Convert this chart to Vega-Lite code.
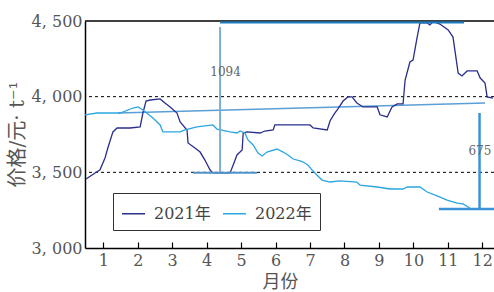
{
  "$schema": "https://vega.github.io/schema/vega-lite/v6.json",
  "width": 409,
  "height": 227,
  "autosize": "none",
  "padding": {"left": 85, "top": 21, "right": 0, "bottom": 44},
  "config": {"view": {"stroke": null}, "background": "white"},
  "datasets": {
    "prices": [
      {"year": "2021年", "m": 0.50, "p": 3456}, {"year": "2021年", "m": 0.76, "p": 3496}, {"year": "2021年", "m": 0.90, "p": 3515},
      {"year": "2021年", "m": 1.05, "p": 3595}, {"year": "2021年", "m": 1.14, "p": 3667}, {"year": "2021年", "m": 1.28, "p": 3767},
      {"year": "2021年", "m": 1.40, "p": 3793}, {"year": "2021年", "m": 1.78, "p": 3793}, {"year": "2021年", "m": 2.07, "p": 3800},
      {"year": "2021年", "m": 2.15, "p": 3892}, {"year": "2021年", "m": 2.24, "p": 3971}, {"year": "2021年", "m": 2.36, "p": 3978},
      {"year": "2021年", "m": 2.65, "p": 3985}, {"year": "2021年", "m": 2.79, "p": 3958}, {"year": "2021年", "m": 2.94, "p": 3932},
      {"year": "2021年", "m": 3.14, "p": 3892}, {"year": "2021年", "m": 3.23, "p": 3833}, {"year": "2021年", "m": 3.43, "p": 3780},
      {"year": "2021年", "m": 3.46, "p": 3694}, {"year": "2021年", "m": 3.66, "p": 3661}, {"year": "2021年", "m": 3.81, "p": 3634},
      {"year": "2021年", "m": 3.95, "p": 3581}, {"year": "2021年", "m": 4.10, "p": 3515}, {"year": "2021年", "m": 4.18, "p": 3496},
      {"year": "2021年", "m": 4.68, "p": 3496}, {"year": "2021年", "m": 4.77, "p": 3548}, {"year": "2021年", "m": 4.88, "p": 3615},
      {"year": "2021年", "m": 5.03, "p": 3648}, {"year": "2021年", "m": 5.06, "p": 3760}, {"year": "2021年", "m": 5.17, "p": 3767},
      {"year": "2021年", "m": 5.55, "p": 3760}, {"year": "2021年", "m": 5.69, "p": 3773}, {"year": "2021年", "m": 5.93, "p": 3780},
      {"year": "2021年", "m": 5.98, "p": 3813}, {"year": "2021年", "m": 7.00, "p": 3813}, {"year": "2021年", "m": 7.09, "p": 3793},
      {"year": "2021年", "m": 7.50, "p": 3780}, {"year": "2021年", "m": 7.58, "p": 3839}, {"year": "2021年", "m": 7.70, "p": 3885},
      {"year": "2021年", "m": 7.81, "p": 3919}, {"year": "2021年", "m": 7.96, "p": 3971}, {"year": "2021年", "m": 8.10, "p": 3998},
      {"year": "2021年", "m": 8.22, "p": 3998}, {"year": "2021年", "m": 8.36, "p": 3958}, {"year": "2021年", "m": 8.54, "p": 3932},
      {"year": "2021年", "m": 8.95, "p": 3932}, {"year": "2021年", "m": 9.03, "p": 3880}, {"year": "2021年", "m": 9.24, "p": 3866},
      {"year": "2021年", "m": 9.38, "p": 3932}, {"year": "2021年", "m": 9.53, "p": 3952}, {"year": "2021年", "m": 9.70, "p": 3952},
      {"year": "2021年", "m": 9.76, "p": 4110}, {"year": "2021年", "m": 9.90, "p": 4229}, {"year": "2021年", "m": 9.99, "p": 4242},
      {"year": "2021年", "m": 10.11, "p": 4394}, {"year": "2021年", "m": 10.19, "p": 4487}, {"year": "2021年", "m": 10.40, "p": 4487},
      {"year": "2021年", "m": 10.48, "p": 4474}, {"year": "2021年", "m": 10.57, "p": 4497}, {"year": "2021年", "m": 10.77, "p": 4480},
      {"year": "2021年", "m": 11.01, "p": 4441}, {"year": "2021年", "m": 11.15, "p": 4394}, {"year": "2021年", "m": 11.30, "p": 4156},
      {"year": "2021年", "m": 11.41, "p": 4137}, {"year": "2021年", "m": 11.56, "p": 4170}, {"year": "2021年", "m": 11.85, "p": 4170},
      {"year": "2021年", "m": 11.94, "p": 4123}, {"year": "2021年", "m": 12.08, "p": 4090}, {"year": "2021年", "m": 12.14, "p": 3998},
      {"year": "2021年", "m": 12.31, "p": 3991},
      {"year": "2022年", "m": 0.47, "p": 3879}, {"year": "2022年", "m": 0.82, "p": 3892}, {"year": "2022年", "m": 1.49, "p": 3892},
      {"year": "2022年", "m": 1.86, "p": 3925}, {"year": "2022年", "m": 2.01, "p": 3932}, {"year": "2022年", "m": 2.15, "p": 3912},
      {"year": "2022年", "m": 2.44, "p": 3859}, {"year": "2022年", "m": 2.65, "p": 3813}, {"year": "2022年", "m": 2.73, "p": 3767},
      {"year": "2022年", "m": 3.23, "p": 3767}, {"year": "2022年", "m": 3.37, "p": 3780}, {"year": "2022年", "m": 3.72, "p": 3800},
      {"year": "2022年", "m": 4.18, "p": 3813}, {"year": "2022年", "m": 4.30, "p": 3786}, {"year": "2022年", "m": 4.68, "p": 3767},
      {"year": "2022年", "m": 4.88, "p": 3760}, {"year": "2022年", "m": 4.97, "p": 3773}, {"year": "2022年", "m": 5.11, "p": 3760},
      {"year": "2022年", "m": 5.20, "p": 3714}, {"year": "2022年", "m": 5.35, "p": 3681}, {"year": "2022年", "m": 5.49, "p": 3628},
      {"year": "2022年", "m": 5.61, "p": 3608}, {"year": "2022年", "m": 5.75, "p": 3634}, {"year": "2022年", "m": 6.04, "p": 3654},
      {"year": "2022年", "m": 6.22, "p": 3634}, {"year": "2022年", "m": 6.36, "p": 3615}, {"year": "2022年", "m": 6.51, "p": 3588},
      {"year": "2022年", "m": 6.71, "p": 3575}, {"year": "2022年", "m": 6.80, "p": 3568}, {"year": "2022年", "m": 6.94, "p": 3548},
      {"year": "2022年", "m": 7.06, "p": 3515}, {"year": "2022年", "m": 7.20, "p": 3482}, {"year": "2022年", "m": 7.35, "p": 3449},
      {"year": "2022年", "m": 7.58, "p": 3436}, {"year": "2022年", "m": 7.87, "p": 3443}, {"year": "2022年", "m": 8.36, "p": 3436},
      {"year": "2022年", "m": 8.45, "p": 3416}, {"year": "2022年", "m": 8.95, "p": 3403}, {"year": "2022年", "m": 9.32, "p": 3390},
      {"year": "2022年", "m": 9.70, "p": 3390}, {"year": "2022年", "m": 9.82, "p": 3403}, {"year": "2022年", "m": 10.19, "p": 3403},
      {"year": "2022年", "m": 10.40, "p": 3370}, {"year": "2022年", "m": 10.69, "p": 3344}, {"year": "2022年", "m": 10.98, "p": 3317},
      {"year": "2022年", "m": 11.27, "p": 3297}, {"year": "2022年", "m": 11.44, "p": 3291}, {"year": "2022年", "m": 11.64, "p": 3264}
    ],
    "trend": [{"m": 1.43, "p": 3892}, {"m": 12.08, "p": 3958}]
  },
  "encoding": {
    "x": {
      "type": "quantitative",
      "scale": {"domain": [0.469, 12.34], "nice": false, "zero": false},
      "axis": {
        "values": [1, 2, 3, 4, 5, 6, 7, 8, 9, 10, 11, 12],
        "title": "月份",
        "grid": false,
        "domainColor": "#000000",
        "domainWidth": 1.5,
        "tickColor": "#000000",
        "tickWidth": 1.2,
        "tickSize": -6,
        "labelPadding": 10,
        "labelFont": "DejaVu Serif",
        "labelFontSize": 16,
        "labelColor": "#555555",
        "labelFlush": false,
        "titleFont": "DejaVu Serif, Noto Sans CJK SC",
        "titleFontSize": 18,
        "titleFontWeight": "normal",
        "titleColor": "#555555",
        "titleX": 195,
        "titleY": 34,
        "titleBaseline": "middle"
      }
    },
    "y": {
      "type": "quantitative",
      "scale": {"domain": [3000, 4500], "nice": false, "zero": false},
      "axis": {
        "values": [3000, 3500, 4000, 4500],
        "labelExpr": "replace(format(datum.value, ','), ',', ', ')",
        "title": "价格/元· t⁻¹",
        "grid": false,
        "ticks": false,
        "domainColor": "#000000",
        "domainWidth": 1.5,
        "labelPadding": 3,
        "labelFont": "DejaVu Serif",
        "labelFontSize": 16,
        "labelColor": "#555555",
        "labelFlush": false,
        "titleFont": "DejaVu Serif, Noto Sans CJK SC",
        "titleFontSize": 20,
        "titleFontWeight": "normal",
        "titleColor": "#555555",
        "titleX": -68,
        "titleY": 113,
        "titleBaseline": "middle"
      }
    }
  },
  "layer": [
    {
      "data": {"values": [{"p": 4000}, {"p": 3500}]},
      "mark": {"type": "rule", "color": "#000000", "strokeWidth": 1, "strokeDash": [3, 3]},
      "encoding": {"y": {"field": "p", "type": "quantitative"}}
    },
    {
      "data": {"values": [{"p": 4500}]},
      "mark": {"type": "rule", "color": "#000000", "strokeWidth": 1.5},
      "encoding": {"y": {"field": "p", "type": "quantitative"}}
    },
    {
      "data": {"name": "trend"},
      "mark": {"type": "line", "color": "#5a9fd6", "strokeWidth": 1.5},
      "encoding": {
        "x": {"field": "m", "type": "quantitative"},
        "y": {"field": "p", "type": "quantitative"}
      }
    },
    {
      "data": {"name": "prices"},
      "mark": {"type": "line", "strokeWidth": 1.3},
      "encoding": {
        "x": {"field": "m", "type": "quantitative"},
        "y": {"field": "p", "type": "quantitative"},
        "color": {
          "field": "year",
          "type": "nominal",
          "scale": {"domain": ["2021年", "2022年"], "range": ["#2b2e8c", "#2aa6e0"]},
          "legend": {
            "title": null,
            "orient": "none",
            "legendX": 28,
            "legendY": 172,
            "direction": "horizontal",
            "fillColor": "#ffffff",
            "strokeColor": "#333333",
            "padding": 8,
            "symbolType": "stroke",
            "symbolSize": 529,
            "symbolStrokeWidth": 1.5,
            "labelFont": "DejaVu Serif, Noto Sans CJK SC",
            "labelFontSize": 16,
            "labelColor": "#444444",
            "labelOffset": 8,
            "columnPadding": 9
          }
        }
      }
    },
    {
      "data": {"values": [{"m": 4.39, "p": 3500, "p2": 4460}]},
      "mark": {"type": "rule", "color": "#7aaed3", "strokeWidth": 2},
      "encoding": {
        "x": {"field": "m", "type": "quantitative"},
        "y": {"field": "p", "type": "quantitative"},
        "y2": {"field": "p2"}
      }
    },
    {
      "data": {"values": [{"m": 4.39, "m2": 11.47, "p": 4490}]},
      "mark": {"type": "rule", "color": "#1b7dbf", "strokeWidth": 2},
      "encoding": {
        "x": {"field": "m", "type": "quantitative"},
        "x2": {"field": "m2"},
        "y": {"field": "p", "type": "quantitative"}
      }
    },
    {
      "data": {"values": [{"m": 3.61, "m2": 5.46, "p": 3497}]},
      "mark": {"type": "rule", "color": "#4f93c9", "strokeWidth": 2},
      "encoding": {
        "x": {"field": "m", "type": "quantitative"},
        "x2": {"field": "m2"},
        "y": {"field": "p", "type": "quantitative"}
      }
    },
    {
      "data": {"values": [{"m": 11.92, "p": 3262, "p2": 3892}]},
      "mark": {"type": "rule", "color": "#3b93d6", "strokeWidth": 2.5},
      "encoding": {
        "x": {"field": "m", "type": "quantitative"},
        "y": {"field": "p", "type": "quantitative"},
        "y2": {"field": "p2"}
      }
    },
    {
      "data": {"values": [{"m": 10.74, "m2": 12.34, "p": 3257}]},
      "mark": {"type": "rule", "color": "#3b93d6", "strokeWidth": 2.5},
      "encoding": {
        "x": {"field": "m", "type": "quantitative"},
        "x2": {"field": "m2"},
        "y": {"field": "p", "type": "quantitative"}
      }
    },
    {
      "data": {"values": [{"m": 4.55, "p": 4163, "t": "1094"}, {"m": 11.93, "p": 3640, "t": "675"}]},
      "mark": {"type": "text", "font": "DejaVu Serif", "fontSize": 12, "color": "#666666", "align": "center", "baseline": "middle"},
      "encoding": {
        "x": {"field": "m", "type": "quantitative"},
        "y": {"field": "p", "type": "quantitative"},
        "text": {"field": "t"}
      }
    }
  ]
}
